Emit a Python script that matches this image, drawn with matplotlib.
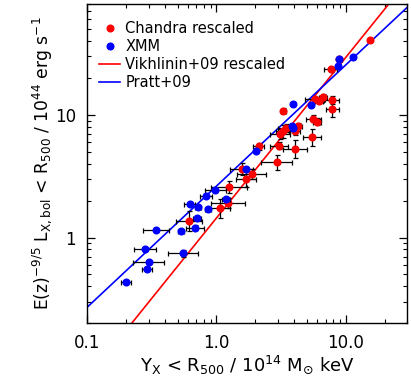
import numpy as np
import matplotlib
matplotlib.use("Agg")
import matplotlib.pyplot as plt
from matplotlib.lines import Line2D

# ---- data ----
# XMM (blue)
xmm_yx = [0.1995, 0.280, 0.290, 0.300, 0.338, 0.531, 0.55, 0.62, 0.682, 0.707, 0.72, 0.83,
          0.86, 0.98, 1.18, 1.69, 2.03, 3.93, 3.93, 3.85, 5.36, 8.67, 8.83, 11.46]
xmm_lx = [0.432, 0.814, 0.554, 0.635, 1.154, 1.13, 0.746, 1.875, 1.205, 1.44, 1.78, 2.18,
          1.70, 2.42, 2.07, 3.63, 5.04, 12.2, 7.79, 8.1, 12.05, 25.1, 28.6, 29.7]
xmm_xerr_dex = [0.039, 0.083, 0.041, 0.12, 0.10, 0.026, 0.115, 0.045, 0.07, 0.03, 0.02, 0.05,
                0.025, 0.08, 0.03, 0, 0, 0, 0, 0, 0, 0, 0, 0]
xmm_yerr_dex = [0, 0, 0, 0, 0, 0, 0.03, 0, 0.02, 0, 0, 0,
                0, 0, 0, 0, 0, 0, 0, 0, 0, 0, 0, 0]

# Chandra rescaled (red)
cha_yx = [0.609, 1.058, 1.23, 1.256, 1.566, 1.69, 1.87, 2.12, 2.92, 3.03, 3.29, 3.1, 3.25, 3.45,
          4.05, 4.05, 4.25, 5.52, 5.62, 6.03, 5.79, 6.2, 6.71, 7.79, 7.9, 7.65, 8.93, 15.4]
cha_lx = [1.365, 1.73, 1.92, 2.58, 3.63, 3.01, 3.32, 5.54, 4.11, 5.6, 10.8, 6.97, 7.33, 7.8,
          5.27, 7.33, 8.15, 6.59, 9.34, 8.83, 13.4, 13.0, 14.1, 13.2, 11.1, 23.6, 28.8, 40.6]
cha_xerr_dex = [0.10, 0.08, 0.13, 0.14, 0.09, 0.08, 0.11, 0.04, 0.12, 0.07, 0.02, 0.08, 0.05, 0.06,
                0.09, 0.04, 0.03, 0.07, 0.06, 0.03, 0.08, 0.03, 0.03, 0.06, 0.05, 0.05, 0.02, 0.01]
cha_yerr_dex = [0.08, 0.08, 0.04, 0.05, 0.05, 0.07, 0.04, 0.03, 0.06, 0.03, 0.02, 0.04, 0.05, 0.03,
                0.07, 0.03, 0.02, 0.07, 0.03, 0.03, 0.02, 0.02, 0.02, 0.03, 0.06, 0.02, 0.01, 0.01]

# power-law relations  L = norm * Yx^slope
vikh_norm, vikh_slope = 1.445, 1.308
pratt_norm, pratt_slope = 2.63, 0.987

x_ticks = [0.1, 1.0, 10.0]
x_ticklabels = ["0.1", "1.0", "10.0"]
y_ticks = [1, 10]
y_ticklabels = ["1", "10"]

# ---- plot ----
plt.rcParams['font.family'] = ['DejaVu Sans']
plt.rcParams['mathtext.fontset'] = 'dejavusans'

fig = plt.figure(figsize=(4.11, 3.78), dpi=100)
ax = fig.add_axes([0.2124, 0.1447, 0.991 - 0.2124, 0.989 - 0.1447])
ax.set_xscale('log')
ax.set_yscale('log')
ax.set_xlim(0.1, 30)
ax.set_ylim(0.2, 80)

xl = np.logspace(-1, np.log10(30), 200)
ax.plot(xl, vikh_norm * xl ** vikh_slope, color='red', lw=1.2, zorder=2)
ax.plot(xl, pratt_norm * xl ** pratt_slope, color='blue', lw=1.2, zorder=2)


def errs(v, dex):
    v = np.asarray(v, float)
    d = np.asarray(dex, float)
    lo = v - v / 10 ** d
    hi = v * 10 ** d - v
    return np.vstack([lo, hi])


for xs, ys, xe, ye, col, z in [(cha_yx, cha_lx, cha_xerr_dex, cha_yerr_dex, 'red', 3),
                                (xmm_yx, xmm_lx, xmm_xerr_dex, xmm_yerr_dex, 'blue', 4)]:
    ax.errorbar(xs, ys, xerr=errs(xs, xe), yerr=errs(ys, ye), fmt='none', ecolor='black',
                elinewidth=0.9, capsize=1.8, capthick=0.9, zorder=z)
    ax.plot(xs, ys, 'o', color=col, ms=4.8, mec=col, zorder=z + 0.5, linestyle='none')

ax.set_xticks(x_ticks)
ax.set_xticklabels(x_ticklabels)
ax.set_yticks(y_ticks)
ax.set_yticklabels(y_ticklabels)
ax.tick_params(which='both', direction='in', top=True, right=True, labelsize=12)
ax.tick_params(which='major', length=6, width=0.9, pad=8)
ax.tick_params(which='minor', length=3, width=0.8)
for s in ax.spines.values():
    s.set_linewidth(1.0)

ax.set_xlabel(r'Y$_{\rm X}$ < R$_{500}$ / 10$^{14}$ M$_{\odot}$ keV', fontsize=13, labelpad=1)
ax.set_ylabel(r'E(z)$^{-9/5}$ L$_{\rm X,bol}$ < R$_{500}$ / 10$^{44}$ erg s$^{-1}$', fontsize=12.3,
              labelpad=1)

handles = [
    Line2D([], [], marker='o', color='red', ls='none', ms=4.8),
    Line2D([], [], marker='o', color='blue', ls='none', ms=4.8),
    Line2D([], [], color='red', lw=1.2),
    Line2D([], [], color='blue', lw=1.2),
]
labels = ['Chandra rescaled', 'XMM', 'Vikhlinin+09 rescaled', 'Pratt+09']
ax.legend(handles, labels, loc='upper left', frameon=False, fontsize=10.5, handlelength=1.45,
          handletextpad=0.35, labelspacing=0.22, borderaxespad=0.4, bbox_to_anchor=(0.0, 0.985))

fig.savefig('out.png', dpi=100)
